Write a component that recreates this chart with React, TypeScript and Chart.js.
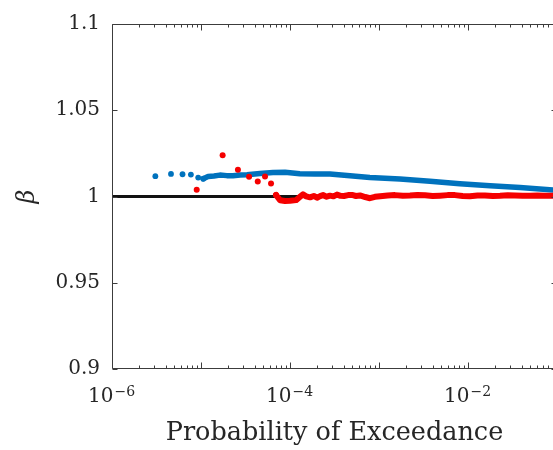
import React, { useEffect, useRef } from 'react';
import { Chart, registerables } from 'chart.js';

Chart.register(...registerables);

// ---- axis settings ----
const xMin = 1e-6;
const xMax = 1e-1;
const yMin = 0.9;
const yMax = 1.1;
const yTickValues = [0.9, 0.95, 1, 1.05, 1.1];
const yTickLabels = ['0.9', '0.95', '1', '1.05', '1.1'];
const xLabelExponents = [-6, -4, -2];
const xMinorMultipliers = [2, 3, 4, 5, 6, 7, 8, 9];
const xTitle = 'Probability of Exceedance';
const yTitle = 'β';

// ---- data (probability of exceedance, beta) ----
const blueDotP = [3.07e-6, 4.6e-6, 6.2e-6, 7.7e-6, 9.3e-6, 1.06e-5];
const blueDotB = [1.0118, 1.0131, 1.0129, 1.0127, 1.011, 1.0103];

const blueLineP = [
  1.06e-5, 1.2e-5, 1.4e-5, 1.63e-5, 1.95e-5, 2.29e-5, 2.75e-5, 3.29e-5, 4.6e-5, 6.44e-5,
  8.8e-5, 1.29e-4, 1.9e-4, 2.81e-4, 4.72e-4, 7.9e-4, 1.72e-3, 3.74e-3, 8.1e-3, 1.77e-2,
  3.84e-2, 9.0e-2, 1e-1,
];
const blueLineB = [
  1.0103, 1.0116, 1.0119, 1.0124, 1.0121, 1.012, 1.0124, 1.0126, 1.0133, 1.0139,
  1.014, 1.0132, 1.013, 1.013, 1.012, 1.011, 1.0101, 1.0088, 1.0074, 1.0063,
  1.0052, 1.0038, 1.0035,
];

const redDotP = [8.95e-6, 1.75e-5, 2.6e-5, 3.47e-5, 4.34e-5, 5.24e-5, 6.12e-5, 6.97e-5];
const redDotB = [1.0039, 1.0239, 1.0155, 1.0114, 1.0087, 1.0116, 1.0076, 1.0009];

const redLineP = [
  6.97e-5, 7.73e-5, 8.8e-5, 1.0e-4, 1.17e-4, 1.28e-4, 1.4e-4, 1.52e-4, 1.68e-4, 1.85e-4,
  2.01e-4, 2.18e-4, 2.35e-4, 2.58e-4, 2.81e-4, 3.08e-4, 3.37e-4, 3.7e-4, 4.04e-4, 4.5e-4,
  4.98e-4, 5.5e-4, 6.12e-4, 7.0e-4, 7.92e-4, 9.0e-4, 1.03e-3, 1.25e-3, 1.51e-3, 1.85e-3,
  2.23e-3, 2.7e-3, 3.29e-3, 4.0e-3, 4.84e-3, 5.9e-3, 7.14e-3, 8.7e-3, 1.05e-2, 1.28e-2,
  1.55e-2, 1.9e-2, 2.29e-2, 2.8e-2, 3.37e-2, 4.1e-2, 4.97e-2, 6.0e-2, 7.33e-2, 1e-1,
];
const redLineB = [
  1.0009, 0.9978, 0.9974, 0.9975, 0.9979, 0.9996, 1.0012, 1.0001, 0.9995, 1.0003,
  0.9993, 1.0002, 1.0008, 0.9999, 1.0005, 1.0001, 1.0011, 1.0004, 1.0003, 1.0008,
  1.0009, 1.0003, 1.0006, 0.9997, 0.999, 0.9998, 1.0002, 1.0006, 1.0008, 1.0004,
  1.0006, 1.0009, 1.0007, 1.0003, 1.0005, 1.0008, 1.0008, 1.0003, 1.0002, 1.0006,
  1.0006, 1.0003, 1.0004, 1.0007, 1.0006, 1.0004, 1.0005, 1.0006, 1.0004, 1.0005,
];

const unityP = [1e-6, 1e-1];
const unityB = [1, 1];

const BLUE = '#0072BD';
const RED = 'rgb(245,0,0)';
const AXIS = '#3c3c3c';
const TEXT = '#262626';
const FONT = '"DejaVu Serif", serif';

const pts = (p: number[], b: number[]) => p.map((v, i) => ({ x: v, y: b[i] }));

const framePlugin = {
  id: 'frame',
  afterDatasetsDraw(chart: any) {
    const { ctx, chartArea } = chart;
    const { left, right, top, bottom } = chartArea;
    const xs = chart.scales.x;
    const ys = chart.scales.y;
    ctx.save();
    ctx.strokeStyle = AXIS;
    ctx.lineWidth = 1;
    const L = Math.round(left) + 0.5;
    const R = Math.round(right) - 0.5;
    const T = Math.round(top) + 0.5;
    const B = Math.round(bottom) - 0.5;
    ctx.beginPath();
    ctx.moveTo(L, T);
    ctx.lineTo(R, T);
    ctx.lineTo(R, B);
    ctx.lineTo(L, B);
    ctx.closePath();
    ctx.stroke();

    // x ticks (inward, top and bottom)
    ctx.beginPath();
    for (let e = -6; e <= -1; e++) {
      const major = Math.pow(10, e);
      const px = Math.round(xs.getPixelForValue(major)) + 0.5;
      ctx.moveTo(px, B);
      ctx.lineTo(px, B - 6);
      ctx.moveTo(px, T);
      ctx.lineTo(px, T + 6);
      for (const k of xMinorMultipliers) {
        const v = k * major;
        if (v > xMax) continue;
        const mx = Math.round(xs.getPixelForValue(v)) + 0.5;
        ctx.moveTo(mx, B);
        ctx.lineTo(mx, B - 3);
        ctx.moveTo(mx, T);
        ctx.lineTo(mx, T + 3);
      }
    }
    // y ticks
    for (const v of yTickValues) {
      const py = Math.round(ys.getPixelForValue(v)) + 0.5;
      ctx.moveTo(L, py);
      ctx.lineTo(L + 5, py);
      ctx.moveTo(R, py);
      ctx.lineTo(R - 5, py);
    }
    ctx.stroke();

    // x tick labels with superscript exponent
    ctx.fillStyle = TEXT;
    ctx.textBaseline = 'alphabetic';
    ctx.textAlign = 'left';
    for (const e of xLabelExponents) {
      const cx = xs.getPixelForValue(Math.pow(10, e));
      const base = '10';
      const exp = '\u2212' + String(Math.abs(e));
      ctx.font = `20px ${FONT}`;
      const wb = ctx.measureText(base).width;
      ctx.font = `14px ${FONT}`;
      const we = ctx.measureText(exp).width;
      const x0 = cx - (wb + we) / 2 - 1;
      ctx.font = `20px ${FONT}`;
      ctx.fillText(base, x0, bottom + 33);
      ctx.font = `14px ${FONT}`;
      ctx.fillText(exp, x0 + wb + 1, bottom + 26.5);
    }
    ctx.restore();
  },
};

export default function App() {
  const ref = useRef<HTMLCanvasElement | null>(null);
  useEffect(() => {
    if (!ref.current) return;
    const chart = new Chart(ref.current, {
      type: 'scatter',
      data: {
        datasets: [
          {
            data: pts(redDotP, redDotB),
            backgroundColor: RED,
            borderColor: RED,
            pointRadius: 3,
            pointBorderWidth: 0,
            showLine: false,
            order: 0,
          },
          {
            data: pts(redLineP, redLineB),
            borderColor: RED,
            backgroundColor: RED,
            borderWidth: 6,
            pointRadius: 0,
            showLine: true,
            tension: 0,
            borderJoinStyle: 'round',
            borderCapStyle: 'round',
            order: 0,
          },
          {
            data: pts(blueDotP, blueDotB),
            backgroundColor: BLUE,
            borderColor: BLUE,
            pointRadius: 2.9,
            pointBorderWidth: 0,
            showLine: false,
            order: 1,
          },
          {
            data: pts(blueLineP, blueLineB),
            borderColor: BLUE,
            backgroundColor: BLUE,
            borderWidth: 5.5,
            pointRadius: 0,
            showLine: true,
            tension: 0,
            borderJoinStyle: 'round',
            borderCapStyle: 'round',
            order: 1,
          },
          {
            data: pts(unityP, unityB),
            borderColor: '#111111',
            borderWidth: 3,
            pointRadius: 0,
            showLine: true,
            order: 2,
          },
        ],
      } as any,
      options: {
        animation: false,
        responsive: false,
        events: [],
        layout: { padding: { top: 22.5, right: 43, bottom: 0, left: 0 } },
        plugins: { legend: { display: false }, tooltip: { enabled: false } },
        scales: {
          x: {
            type: 'logarithmic',
            min: xMin,
            max: xMax,
            grid: { display: false, drawTicks: false },
            border: { display: false },
            ticks: { display: false },
            title: {
              display: true,
              text: xTitle,
              color: TEXT,
              font: { family: FONT, size: 25.5 },
              padding: { top: 0, bottom: 1.5 },
            },
            afterFit: (s: any) => {
              s.height = 81;
            },
          },
          y: {
            min: yMin,
            max: yMax,
            grid: { display: false, drawTicks: false },
            border: { display: false },
            afterBuildTicks: (s: any) => {
              s.ticks = yTickValues.map((v) => ({ value: v }));
            },
            ticks: {
              color: TEXT,
              padding: 12,
              font: { family: FONT, size: 20 },
              callback: (_v: any, i: number) => yTickLabels[i],
            },
            title: {
              display: true,
              text: yTitle,
              color: TEXT,
              font: { family: FONT, size: 24, style: 'italic' },
              padding: { top: 13, bottom: 0 },
            },
            afterFit: (s: any) => {
              s.width = 112;
            },
          },
        },
      } as any,
      plugins: [framePlugin],
    });
    return () => chart.destroy();
  }, []);

  return (
    <div
      style={{
        position: 'fixed',
        left: 0,
        top: 0,
        width: 553,
        height: 450,
        overflow: 'hidden',
        background: '#ffffff',
      }}
    >
      <canvas ref={ref} width={600} height={450} style={{ display: 'block' }} />
    </div>
  );
}
